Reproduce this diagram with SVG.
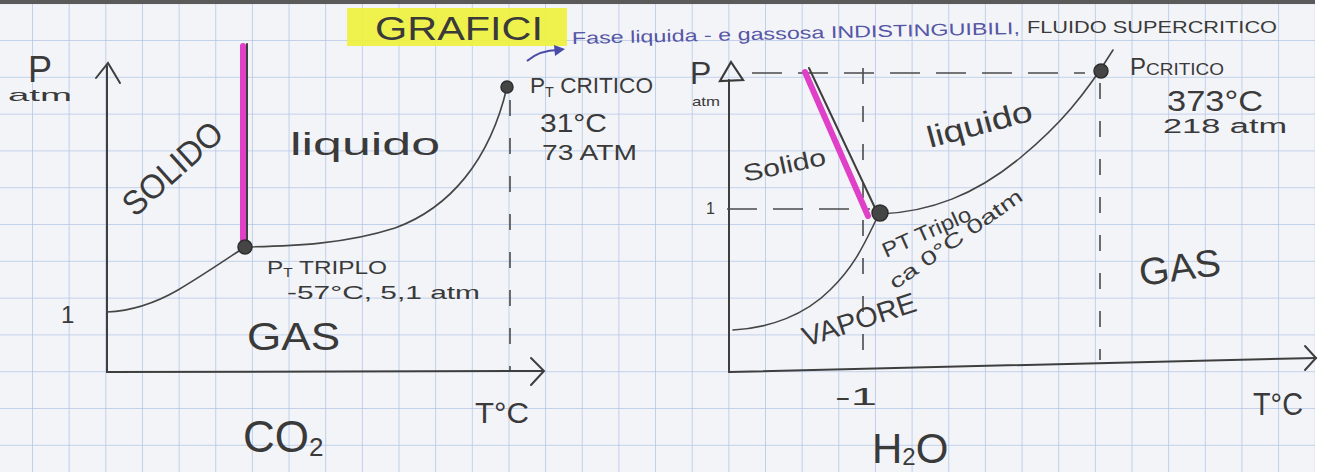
<svg xmlns="http://www.w3.org/2000/svg" width="1327" height="472" viewBox="0 0 1327 472">
<defs>
<pattern id="grid" patternUnits="userSpaceOnUse" x="32" y="40" width="36.65" height="36.8">
<path d="M0 0 H36.65 M0 0 V36.8" fill="none" stroke="#b4c6e6" stroke-width="1.6"/>
</pattern>
<style>
.ink{font-family:"Liberation Sans","DejaVu Sans",sans-serif;fill:#3a3a3a}
.blue{font-family:"Liberation Sans","DejaVu Sans",sans-serif;fill:#5656a6}
.ln{fill:none;stroke:#3e3e3e;stroke-width:2;stroke-linecap:round}
.thin{fill:none;stroke:#454545;stroke-width:1.6;stroke-linecap:round}
.dash{fill:none;stroke:#4a4a4a;stroke-width:1.6;stroke-dasharray:30 16}
.dashv{fill:none;stroke:#4a4a4a;stroke-width:1.6;stroke-dasharray:16 22}
.pink{fill:none;stroke:#e040c8;stroke-width:6;stroke-linecap:round}
.dot{fill:#454545;stroke:#2e2e2e;stroke-width:1.5}
</style>
</defs>
<rect x="0" y="0" width="1327" height="472" fill="#ffffff"/>
<rect x="0" y="0" width="1315" height="472" fill="#f3f4f8"/>
<rect x="0" y="0" width="1315" height="472" fill="url(#grid)"/>
<rect x="0" y="0" width="1315" height="4" fill="#5a5a5a"/>

<g id="title">
<rect x="347" y="8" width="220" height="38" fill="#eef23a" opacity="0.9"/>
<text class="ink" x="375" y="40" font-size="34" textLength="168" lengthAdjust="spacingAndGlyphs">GRAFICI</text>
</g>
<g id="note">
<text class="blue" x="572" y="44" font-size="17" textLength="448" lengthAdjust="spacingAndGlyphs" transform="rotate(-1.3 572 44)">Fase liquida - e gassosa INDISTINGUIBILI,</text>
<text class="ink" x="1027" y="33" font-size="17" textLength="250" lengthAdjust="spacingAndGlyphs">FLUIDO SUPERCRITICO</text>
</g>

<g id="connectors">
<path d="M527 61 Q540 50 558 50" fill="none" stroke="#4a4aa8" stroke-width="2.2"/>
<path d="M554 45 L565 49 L555 56 Z" fill="#4a4aa8"/>

<path class="ln" d="M107 66 V372"/>
<path class="ln" d="M96 78 L108 63 L120 83"/>
<path class="ln" d="M107 372 L543 371"/>
<path class="ln" d="M531 358 L544 371 L531 385"/>
<path class="pink" d="M243 46 V244"/>
<path class="ln" d="M247 44 V244" stroke-width="2.4"/>
<path class="thin" d="M107 312 C130 311 152 305 178 290 C205 274 228 258 245 247"/>
<path class="thin" d="M245 247 C295 246 345 244 395 228 C450 208 490 160 507 87"/>
<path class="dashv" d="M510 100 V370"/>
<circle class="dot" cx="245" cy="247" r="7"/>
<circle class="dot" cx="507" cy="87" r="6"/>

<path class="ln" d="M729 80 V372"/>
<path d="M731 62 L720 81 L743 80 Z" fill="none" stroke="#3a3a3a" stroke-width="2.2"/>
<path class="ln" d="M729 372 L1316 358"/>
<path class="ln" d="M1305 346 L1316 358 L1305 370"/>
<path class="dash" d="M752 73 H1085"/>
<path class="dash" d="M727 209 H870" stroke-dasharray="40 35"/>
<path class="dashv" d="M863 68 V372"/>
<path class="dashv" d="M1100 83 V360"/>
<path class="pink" d="M805 72 L868 216"/>
<path class="ln" d="M809 68 L876 210" stroke-width="2.4"/>
<path class="thin" d="M880 214 C930 212 975 195 1020 158 C1060 125 1085 95 1113 50"/>
<path class="thin" d="M878 216 C866 240 856 265 830 290 C805 315 770 328 733 330"/>
<circle class="dot" cx="880" cy="213" r="8"/>
<circle class="dot" cx="1101" cy="71" r="7"/>
</g>

<g id="co2-labels">
<text class="ink" x="28" y="82" font-size="36">P</text>
<text class="ink" x="8" y="101" font-size="17" textLength="64" lengthAdjust="spacingAndGlyphs">atm</text>
<text class="ink" x="61" y="323" font-size="24">1</text>
<text class="ink" x="0" y="0" font-size="34" transform="translate(135 218) rotate(-42)" textLength="122" lengthAdjust="spacingAndGlyphs">SOLIDO</text>
<text class="ink" x="290" y="155" font-size="32" textLength="150" lengthAdjust="spacingAndGlyphs">liquido</text>
<text class="ink" x="267" y="274" font-size="19" textLength="120" lengthAdjust="spacingAndGlyphs">P<tspan font-size="12" dy="3">T</tspan><tspan dy="-3"> TRIPLO</tspan></text>
<text class="ink" x="287" y="299" font-size="19" textLength="193" lengthAdjust="spacingAndGlyphs">-57°C, 5,1 atm</text>
<text class="ink" x="247" y="350" font-size="38" textLength="93" lengthAdjust="spacingAndGlyphs">GAS</text>
<text class="ink" x="530" y="93" font-size="22" textLength="123" lengthAdjust="spacingAndGlyphs">P<tspan font-size="14" dy="4">T</tspan><tspan dy="-4"> CRITICO</tspan></text>
<text class="ink" x="540" y="132" font-size="26" textLength="67" lengthAdjust="spacingAndGlyphs">31°C</text>
<text class="ink" x="542" y="160" font-size="22" textLength="95" lengthAdjust="spacingAndGlyphs">73 ATM</text>
<text class="ink" x="475" y="423" font-size="30" textLength="54" lengthAdjust="spacingAndGlyphs">T°C</text>
<text class="ink" x="243" y="452" font-size="44">CO<tspan font-size="26" dy="4">2</tspan></text>
</g>

<g id="h2o-labels">
<text class="ink" x="690" y="84" font-size="32">P</text>
<text class="ink" x="692" y="106" font-size="13" textLength="28" lengthAdjust="spacingAndGlyphs">atm</text>
<text class="ink" x="706" y="214" font-size="16">1</text>
<text class="ink" x="0" y="0" font-size="24" transform="translate(745 182) rotate(-12)" textLength="84" lengthAdjust="spacingAndGlyphs">Solido</text>
<text class="ink" x="0" y="0" font-size="30" transform="translate(930 148) rotate(-15)" textLength="108" lengthAdjust="spacingAndGlyphs">liquido</text>
<text class="ink" x="0" y="0" font-size="21" transform="translate(886 258) rotate(-24)" textLength="95" lengthAdjust="spacingAndGlyphs">PT Triplo</text>
<text class="ink" x="0" y="0" font-size="20" transform="translate(895 290) rotate(-35)" textLength="158" lengthAdjust="spacingAndGlyphs">ca 0°C 0atm</text>
<text class="ink" x="0" y="0" font-size="28" transform="translate(806 347) rotate(-18)" textLength="118" lengthAdjust="spacingAndGlyphs">VAPORE</text>
<text class="ink" x="0" y="0" font-size="38" transform="translate(1141 286) rotate(-8)" textLength="82" lengthAdjust="spacingAndGlyphs">GAS</text>
<text class="ink" x="1130" y="75" font-size="24">P<tspan font-size="17" textLength="78" lengthAdjust="spacingAndGlyphs">CRITICO</tspan></text>
<text class="ink" x="1167" y="111" font-size="30" textLength="96" lengthAdjust="spacingAndGlyphs">373°C</text>
<text class="ink" x="1163" y="133" font-size="20" textLength="124" lengthAdjust="spacingAndGlyphs">218 atm</text>
<text class="ink" x="835" y="405" font-size="24" textLength="42" lengthAdjust="spacingAndGlyphs">-1</text>
<text class="ink" x="1253" y="415" font-size="32" textLength="50" lengthAdjust="spacingAndGlyphs">T°C</text>
<text class="ink" x="872" y="463" font-size="42">H<tspan font-size="24" dy="2">2</tspan><tspan dy="-2">O</tspan></text>
</g>
</svg>
